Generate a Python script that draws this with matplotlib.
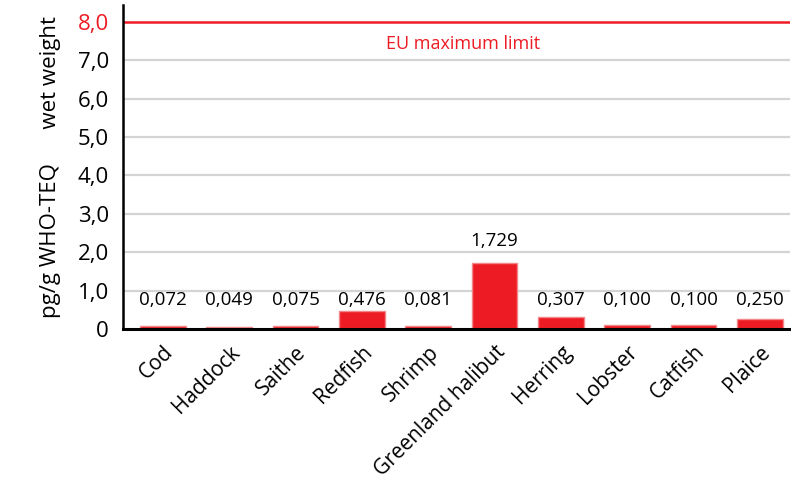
import matplotlib.pyplot as plt

species = ["Cod", "Haddock", "Saithe", "Redfish", "Shrimp", "Greenland halibut",
           "Herring", "Lobster", "Catfish", "Plaice"]
values = [0.072, 0.049, 0.075, 0.476, 0.081, 1.729, 0.307, 0.100, 0.100, 0.250]
eu_limit = 8.0
yticks = [0, 1, 2, 3, 4, 5, 6, 7, 8]
ytick_labels = ["0", "1,0", "2,0", "3,0", "4,0", "5,0", "6,0", "7,0", "8,0"]

plt.rcParams["font.family"] = ["Open Sans", "DejaVu Sans"]
red = "#ED1C24"

fig = plt.figure(figsize=(7.91, 4.86), dpi=100)
ax = fig.add_axes([0.1555, 0.323, 0.843, 0.667])

x = list(range(len(species)))
ax.bar(x, values, width=0.69, color=red, edgecolor="#f3868a", linewidth=1.0,
       zorder=3)

# grid lines and the EU limit
for t in yticks[1:-1]:
    ax.axhline(t, color="#d4d4d4", lw=1.6, zorder=1)
ax.axhline(eu_limit, color=red, lw=1.8, zorder=2)
ax.text(4.52, 7.42, "EU maximum limit", color=red, fontsize=13,
        ha="center", va="center")

# value labels
for xi, v in zip(x, values):
    lab = "{:.3f}".format(v).replace(".", ",")
    ypos = v + 0.33 if v > 1 else 0.52
    ax.text(xi, ypos, lab, ha="center", va="bottom", fontsize=13.5, zorder=4)

ax.set_xlim(-0.6, 9.45)
ax.set_ylim(0, 8.44)
ax.set_yticks(yticks)
ax.set_yticklabels(ytick_labels, fontsize=16)
ax.get_yticklabels()[-1].set_color(red)
ax.set_xticks(x)
ax.set_xticklabels(species, rotation=45, ha="right", rotation_mode="anchor",
                   fontsize=15)
ax.tick_params(axis="y", length=0, pad=10)
ax.tick_params(axis="x", length=0, pad=9)

for s in ["top", "right"]:
    ax.spines[s].set_visible(False)
ax.spines["left"].set_linewidth(1.8)
ax.spines["bottom"].set_linewidth(2.2)
ax.spines["left"].set_zorder(5)
ax.spines["bottom"].set_zorder(5)

ax.set_ylabel("pg/g WHO-TEQ      wet weight", fontsize=16, labelpad=12)

fig.savefig("out.png", dpi=100)
